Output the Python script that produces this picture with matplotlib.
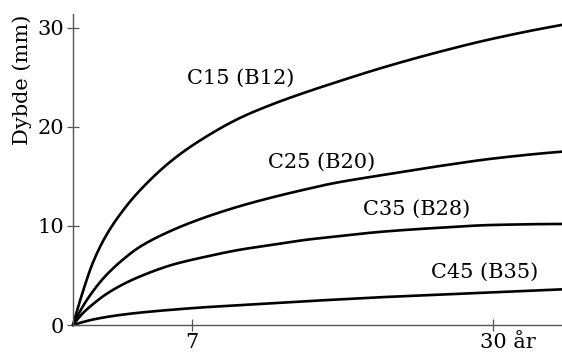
import numpy as np
import matplotlib
matplotlib.use("Agg")
import matplotlib.pyplot as plt
from matplotlib.transforms import ScaledTranslation

# values (years -> depth in mm)
years = [0, 0.40, 0.89, 1.59, 2.57, 3.61, 5.73, 7.96, 10.35, 12.74, 15.2, 17.25, 20.9, 25.4, 30, 35.8]
c15 = [0, 3.4, 6.3, 9.0, 11.55, 13.6, 16.7, 19.0, 20.9, 22.3, 23.5, 24.4, 25.9, 27.5, 28.9, 30.3]
c25 = [0, 1.9, 3.4, 5.0, 6.6, 7.9, 9.6, 10.9, 12.0, 12.9, 13.7, 14.3, 15.1, 16.0, 16.8, 17.5]
c35 = [0, 1.2, 2.1, 3.1, 4.1, 4.9, 6.1, 6.9, 7.6, 8.1, 8.6, 8.9, 9.4, 9.8, 10.1, 10.2]
c45 = [0, 0.3, 0.55, 0.8, 1.05, 1.25, 1.55, 1.8, 2.0, 2.2, 2.4, 2.55, 2.8, 3.05, 3.3, 3.6]
names = ["C15 (B12)", "C25 (B20)", "C35 (B28)", "C45 (B35)"]
label_pos = [(6.7, 24.9), (12.4, 16.4), (19.6, 11.7), (25.0, 5.3)]
xticks = [7, 30]
xticklabels = ["7", "30 år"]
yticks = [0, 10, 20, 30]

P = 0.8666  # the time axis of the original is slightly compressed


def fwd(x):
    return np.power(np.clip(x, 0, None), P)


def inv(u):
    return np.power(np.clip(u, 0, None), 1.0 / P)


def pchip(x, y, xn):
    # monotone cubic, only used to draw a smooth line through the read points
    x = np.asarray(x, float)
    y = np.asarray(y, float)
    h = np.diff(x)
    d = np.diff(y) / h
    m = np.zeros_like(y)
    for k in range(1, len(x) - 1):
        if d[k - 1] * d[k] > 0:
            w1 = 2 * h[k] + h[k - 1]
            w2 = h[k] + 2 * h[k - 1]
            m[k] = (w1 + w2) / (w1 / d[k - 1] + w2 / d[k])
    m[0] = max(0, ((2 * h[0] + h[1]) * d[0] - h[0] * d[1]) / (h[0] + h[1]))
    m[-1] = max(0, ((2 * h[-1] + h[-2]) * d[-1] - h[-1] * d[-2]) / (h[-1] + h[-2]))
    idx = np.clip(np.searchsorted(x, xn) - 1, 0, len(x) - 2)
    t = (xn - x[idx]) / h[idx]
    h00 = 2 * t**3 - 3 * t**2 + 1
    h10 = t**3 - 2 * t**2 + t
    h01 = -2 * t**3 + 3 * t**2
    h11 = t**3 - t**2
    return h00 * y[idx] + h10 * h[idx] * m[idx] + h01 * y[idx + 1] + h11 * h[idx] * m[idx + 1]


plt.rcParams["font.family"] = ["DejaVu Serif"]

fig = plt.figure(figsize=(5.62, 3.52), dpi=100)
ax = fig.add_axes([0.1299, 0.0767, 0.8701, 0.8835])
ax.set_xscale("function", functions=(fwd, inv))

u = fwd(np.array(years))
un = np.linspace(0, u[-1], 400)
for ys in [c15, c25, c35, c45]:
    ax.plot(inv(un), pchip(u, ys, un), color="black", lw=1.9,
            solid_capstyle="round", clip_on=False)

for name, (tx, ty) in zip(names, label_pos):
    ax.text(tx, ty, name, fontsize=15, ha="left", va="center")

ax.set_xlim(0, years[-1])
ax.set_ylim(0, 31.4)

for s in ["top", "right"]:
    ax.spines[s].set_visible(False)
for s in ["left", "bottom"]:
    ax.spines[s].set_color("#555555")
    ax.spines[s].set_linewidth(1.0)

ax.set_xticks(xticks)
ax.set_xticklabels(xticklabels)
ax.set_yticks(yticks)
ax.tick_params(direction="inout", length=9, width=0.9, color="#555555",
               labelsize=15, pad=2)
ax.tick_params(axis="x", pad=1)

# "30 år": keep the number centred on its tick
lab = ax.get_xticklabels()[1]
lab.set_horizontalalignment("left")
lab.set_transform(lab.get_transform() + ScaledTranslation(-13 / 100, 0, fig.dpi_scale_trans))

ax.set_ylabel("Dybde (mm)", fontsize=15)
ax.yaxis.set_label_coords(-0.084, 0.79)

fig.savefig("out.png", dpi=100)
